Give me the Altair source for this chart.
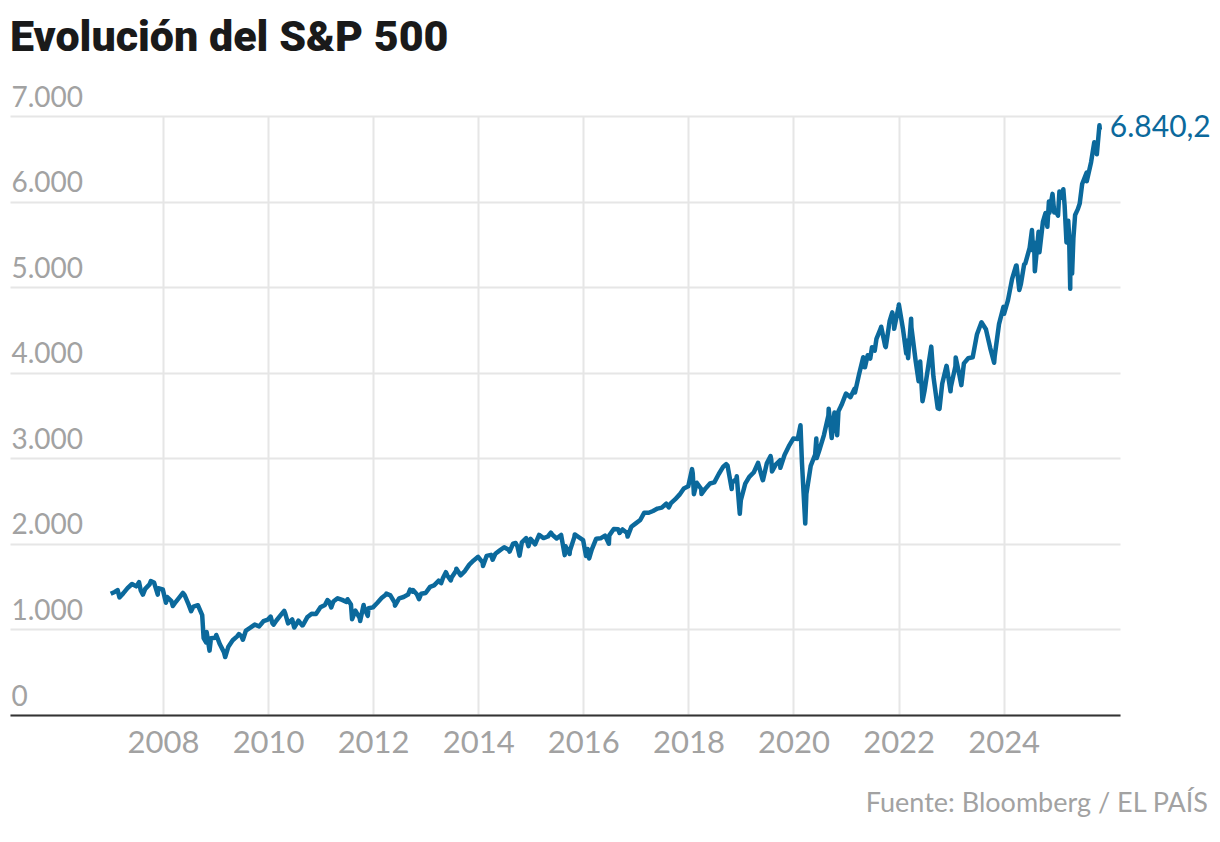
import altair as alt
import pandas as pd

# month-end closes, Jan 2007 .. Sep 2025
monthly_start = "2007-01-31"
monthly_close = [
    1438, 1407, 1421, 1482, 1531, 1503, 1455, 1474, 1527, 1549, 1481, 1468,  # 2007
    1379, 1331, 1323, 1386, 1400, 1280, 1267, 1283, 1166, 969, 896, 903,     # 2008
    826, 735, 798, 873, 919, 919, 987, 1021, 1057, 1036, 1096, 1115,         # 2009
    1074, 1104, 1169, 1187, 1089, 1031, 1102, 1049, 1141, 1183, 1181, 1258,  # 2010
    1286, 1327, 1326, 1364, 1345, 1321, 1292, 1219, 1131, 1253, 1247, 1258,  # 2011
    1312, 1366, 1408, 1398, 1310, 1362, 1379, 1407, 1441, 1412, 1416, 1426,  # 2012
    1498, 1515, 1569, 1598, 1631, 1606, 1686, 1633, 1682, 1757, 1806, 1848,  # 2013
    1783, 1859, 1872, 1884, 1924, 1960, 1931, 2003, 1972, 2018, 2068, 2059,  # 2014
    1995, 2104, 2068, 2086, 2107, 2063, 2104, 1972, 1920, 2079, 2080, 2044,  # 2015
    1940, 1932, 2060, 2065, 2097, 2099, 2174, 2171, 2168, 2126, 2199, 2239,  # 2016
    2279, 2364, 2363, 2384, 2412, 2423, 2470, 2472, 2519, 2575, 2648, 2674,  # 2017
    2824, 2714, 2641, 2648, 2705, 2718, 2816, 2902, 2914, 2712, 2760, 2507,  # 2018
    2704, 2784, 2834, 2946, 2752, 2942, 2980, 2926, 2977, 3038, 3141, 3231,  # 2019
    3226, 2954, 2585, 2912, 3044, 3100, 3271, 3500, 3363, 3270, 3622, 3756,  # 2020
    3714, 3811, 3973, 4181, 4204, 4298, 4395, 4523, 4308, 4605, 4567, 4766,  # 2021
    4516, 4374, 4530, 4132, 4132, 3785, 4130, 3955, 3586, 3872, 4080, 3840,  # 2022
    4077, 3970, 4109, 4169, 4180, 4450, 4589, 4508, 4288, 4194, 4568, 4770,  # 2023
    4846, 5096, 5254, 5036, 5278, 5460, 5522, 5648, 5762, 5705, 6032, 5882,  # 2024
    6041, 5955, 5612, 5569, 5912, 6205, 6339, 6460, 6688,                    # 2025
]

# highs and lows between month ends
swing_dates = [
    "2007-01-03", "2007-02-20", "2007-03-05", "2007-07-19", "2007-08-15", "2007-10-09",
    "2007-11-26", "2008-01-22", "2008-03-10", "2008-05-19", "2008-07-15", "2008-10-10",
    "2008-10-27", "2008-11-20", "2009-01-06", "2009-03-09", "2009-06-12", "2009-07-10",
    "2010-01-19", "2010-02-08", "2010-04-23", "2010-05-20", "2010-06-18", "2010-07-02",
    "2010-08-26", "2011-02-18", "2011-03-16", "2011-04-29", "2011-07-07", "2011-08-08",
    "2011-10-03", "2011-10-27", "2011-11-25", "2012-04-02", "2012-06-01", "2012-09-14",
    "2012-10-05", "2012-11-15", "2013-04-18", "2013-05-21", "2013-06-24", "2013-08-02",
    "2014-02-03", "2014-04-11", "2014-08-07", "2014-09-18", "2014-10-15", "2014-12-16",
    "2015-05-21", "2015-08-25", "2015-09-28", "2015-11-03", "2016-01-20", "2016-02-11",
    "2016-06-27", "2016-09-09", "2016-11-04", "2017-08-18", "2018-01-26", "2018-02-08",
    "2018-04-02", "2018-09-20", "2018-10-29", "2018-12-03", "2018-12-24", "2019-04-30",
    "2019-06-03", "2019-07-26", "2019-08-05", "2019-10-02", "2020-02-19", "2020-03-23",
    "2020-06-08", "2020-06-11", "2020-09-02", "2020-09-23", "2020-10-12", "2020-11-09",
    "2021-03-04", "2021-05-12", "2021-06-18", "2021-07-19", "2021-09-02", "2021-10-04",
    "2021-11-18", "2021-12-01", "2022-01-03", "2022-02-23", "2022-03-08", "2022-03-29",
    "2022-05-20", "2022-06-16", "2022-08-16", "2022-10-12", "2022-12-01", "2022-12-28",
    "2023-02-02", "2023-03-13", "2023-07-31", "2023-10-27", "2024-01-04", "2024-03-28",
    "2024-04-19", "2024-05-23", "2024-07-16", "2024-07-24", "2024-08-05", "2024-09-06",
    "2024-10-18", "2024-11-11", "2024-11-15", "2024-12-06", "2024-12-18", "2025-01-13",
    "2025-01-23", "2025-02-19", "2025-03-13", "2025-03-25", "2025-04-08", "2025-04-09",
    "2025-04-21", "2025-05-12", "2025-06-13", "2025-08-01", "2025-09-22", "2025-10-10",
    "2025-10-28", "2025-10-31",
]
swing_close = [
    1417, 1460, 1374, 1553, 1407, 1565,
    1407, 1311, 1273, 1426, 1214, 899,
    848, 752, 935, 677, 946, 879,
    1150, 1056, 1217, 1071, 1117, 1022,
    1047, 1343, 1257, 1364, 1353, 1119,
    1099, 1285, 1159, 1419, 1278, 1466,
    1460, 1353, 1541, 1669, 1573, 1710,
    1742, 1815, 1910, 2011, 1862, 1973,
    2131, 1868, 1882, 2110, 1859, 1829,
    2001, 2128, 2085, 2426, 2873, 2581,
    2582, 2931, 2641, 2790, 2351, 2946,
    2744, 3026, 2845, 2888, 3386, 2237,
    3232, 3002, 3580, 3237, 3534, 3550,
    3768, 4063, 4166, 4258, 4537, 4300,
    4705, 4513, 4797, 4226, 4170, 4632,
    3901, 3667, 4305, 3577, 4076, 3783,
    4179, 3855, 4589, 4117, 4688, 5254,
    4967, 5268, 5667, 5427, 5186, 5408,
    5865, 6001, 5870, 6090, 5872, 5836,
    6119, 6144, 5522, 5777, 4982, 5457,
    5158, 5844, 5977, 6238, 6693, 6553,
    6891, 6840.2,
]

last_label = "6.840,2"
y_ticks = [0, 1000, 2000, 3000, 4000, 5000, 6000, 7000]
x_ticks = ["2008", "2010", "2012", "2014", "2016", "2018", "2020", "2022", "2024"]

blue = "#0b699c"
grey = "#a2a2a2"
font = "Lato"

monthly = pd.DataFrame({
    "fecha": pd.date_range(monthly_start, periods=len(monthly_close), freq="ME"),
    "cierre": monthly_close,
})
swings = pd.DataFrame({"fecha": pd.to_datetime(swing_dates), "cierre": swing_close})
df = pd.concat([monthly, swings]).sort_values("fecha").reset_index(drop=True)
last = df.tail(1).assign(label=last_label)

x_scale = alt.Scale(domain=["2005-02-02", "2026-03-20"])
y_scale = alt.Scale(domain=[0, 7000], nice=False)

line = alt.Chart(df).mark_line(color=blue, strokeWidth=4.5, strokeJoin="round").encode(
    x=alt.X("fecha:T", scale=x_scale, title=None, axis=alt.Axis(
        values=[pd.Timestamp(f"{y}-01-01").isoformat() for y in x_ticks],
        format="%Y",
        ticks=False,
        domainColor="#333333",
        domainWidth=2,
        gridColor="#e6e6e6",
        gridWidth=2,
        labelColor=grey,
        labelFont=font,
        labelFontSize=31,
        labelPadding=13,
        labelFlush=False,
    )),
    y=alt.Y("cierre:Q", scale=y_scale, title=None, axis=alt.Axis(
        values=y_ticks,
        labelExpr="replace(format(datum.value, ','), ',', '.')",
        domain=False,
        ticks=False,
        tickSize=0,
        gridColor="#e6e6e6",
        gridWidth=2,
        labelAlign="left",
        labelBaseline="alphabetic",
        labelPadding=-1,
        labelOffset=-10,
        labelColor=grey,
        labelFont=font,
        labelFontSize=28,
        labelFlush=False,
        labelOverlap=False,
    )),
)

end_text = alt.Chart(last).mark_text(
    align="left", baseline="middle", dx=10, dy=-2,
    color=blue, font=font, fontSize=30,
).encode(x="fecha:T", y="cierre:Q", text="label:N")

source = alt.Chart(pd.DataFrame({"t": ["Fuente: Bloomberg / EL PAÍS"]})).mark_text(
    align="right", baseline="alphabetic", color=grey, font=font, fontSize=27,
).encode(x=alt.value(1198), y=alt.value(696), text="t:N")

chart = (line + end_text + source).properties(
    width=1110,
    height=599,
    autosize=alt.AutoSizeParams(type="none"),
    padding={"left": 2, "top": 108, "right": 92, "bottom": 119},
    title=alt.TitleParams(
        "Evolución del S&P 500",
        anchor="start",
        font="Roboto",
        fontSize=43,
        fontWeight=900,
        color="#1a1a1a",
        offset=24,
    ),
).configure_view(stroke=None)

chart.save("out.html", embed_options={"renderer": "svg", "actions": False})
